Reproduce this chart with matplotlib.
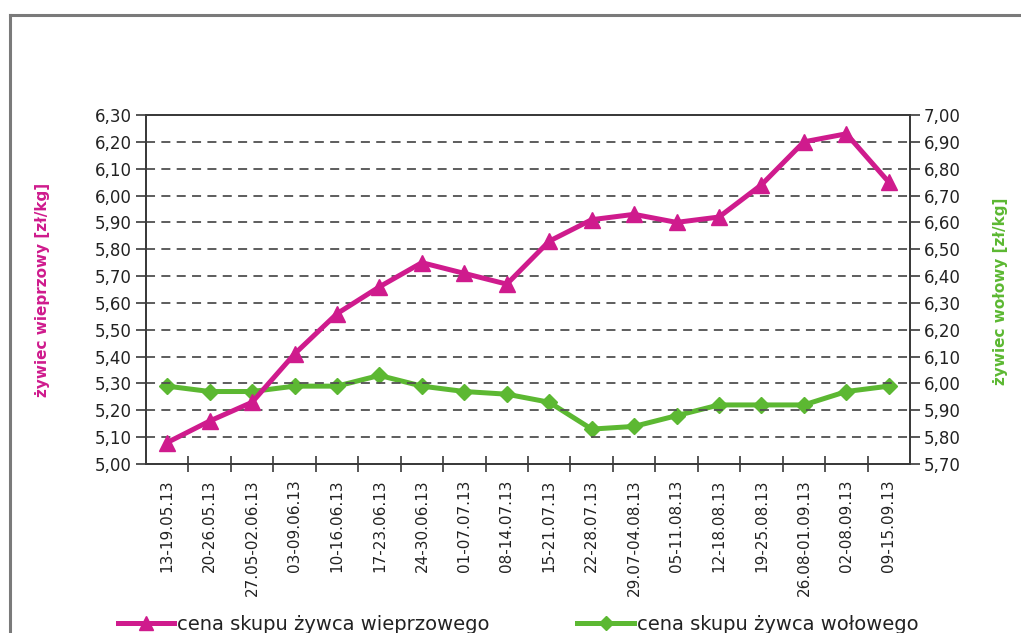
import matplotlib
matplotlib.use("Agg")
import matplotlib.pyplot as plt
from matplotlib.lines import Line2D
from matplotlib.ticker import FixedLocator, FuncFormatter

plt.rcParams["font.family"] = ["DejaVu Sans"]

# weekly periods (2013)
weeks = ["13-19.05.13", "20-26.05.13", "27.05-02.06.13", "03-09.06.13",
         "10-16.06.13", "17-23.06.13", "24-30.06.13", "01-07.07.13",
         "08-14.07.13", "15-21.07.13", "22-28.07.13", "29.07-04.08.13",
         "05-11.08.13", "12-18.08.13", "19-25.08.13", "26.08-01.09.13",
         "02-08.09.13", "09-15.09.13"]
# purchase price of live pigs [zł/kg]
pork = [5.08, 5.16, 5.23, 5.41, 5.56, 5.66, 5.75, 5.71, 5.67, 5.83,
        5.91, 5.93, 5.90, 5.92, 6.04, 6.20, 6.23, 6.05]
# purchase price of live cattle [zł/kg]
beef = [5.99, 5.97, 5.97, 5.99, 5.99, 6.03, 5.99, 5.97, 5.96, 5.93,
        5.83, 5.84, 5.88, 5.92, 5.92, 5.92, 5.97, 5.99]

PINK = "#cf1b8d"
GREEN = "#5cb832"
AXC = "#3a3a3a"
TXT = "#222222"

fig = plt.figure(figsize=(10.21, 6.33), dpi=100)
fig.patch.set_facecolor("white")

# outer frame (left and top edges visible)
fig.add_artist(Line2D([10 / 1021, 10 / 1021], [0, 1 - 15 / 633], color="#7a7a7a",
                      lw=2.2, transform=fig.transFigure))
fig.add_artist(Line2D([10 / 1021, 1.0], [1 - 15 / 633, 1 - 15 / 633], color="#7a7a7a",
                      lw=2.2, transform=fig.transFigure))

ax = fig.add_axes([146 / 1021, 1 - 464 / 633, 764 / 1021, 349 / 633])
ax2 = ax.twinx()

x = list(range(len(weeks)))
comma = FuncFormatter(lambda v, p: f"{v:.2f}".replace(".", ","))

ax.set_ylim(5.0, 6.3)
ax.set_xlim(-0.5, len(weeks) - 0.5)
ax.yaxis.set_major_locator(FixedLocator([5.0 + 0.1 * i for i in range(14)]))
ax.yaxis.set_major_formatter(comma)
for i in range(1, 13):
    ax.axhline(5.0 + 0.1 * i, color="#505050", lw=1.3, ls=(0, (5, 3.5)), zorder=1)

ax2.set_ylim(5.7, 7.0)
ax2.yaxis.set_major_locator(FixedLocator([5.7 + 0.1 * i for i in range(14)]))
ax2.yaxis.set_major_formatter(comma)

ax.set_xticks(x)
ax.set_xticklabels(weeks, rotation=90, fontsize=11, color=TXT)
ax.set_xticks([i + 0.5 for i in range(len(weeks) - 1)], minor=True)
ax.tick_params(axis="x", which="major", length=0, pad=11)
ax.tick_params(axis="x", which="minor", direction="inout", length=11,
               width=1.2, color=AXC)
ax.tick_params(axis="y", direction="out", length=7, width=1.2, color=AXC,
               labelsize=12, labelcolor=TXT, pad=3)
ax2.tick_params(axis="y", direction="out", length=7, width=1.2, color=AXC,
                labelsize=12, labelcolor=TXT, pad=3)

for a in (ax, ax2):
    for s in a.spines.values():
        s.set_color(AXC)
        s.set_linewidth(1.3)

ln2, = ax2.plot(x, beef, color=GREEN, lw=3.6, marker="D", ms=8,
                mec=GREEN, mfc=GREEN, zorder=3, label="cena skupu żywca wołowego")
ln1, = ax.plot(x, pork, color=PINK, lw=3.6, marker="^", ms=11,
               mec=PINK, mfc=PINK, zorder=4, label="cena skupu żywca wieprzowego")
ax.set_zorder(ax2.get_zorder() + 1)
ax.patch.set_visible(False)

fig.text(43 / 1021, 1 - 290 / 633, "żywiec wieprzowy [zł/kg]", rotation=90,
         color=PINK, fontsize=11, fontweight="bold", ha="center", va="center")
fig.text(1000 / 1021, 1 - 291 / 633, "żywiec wołowy [zł/kg]", rotation=90,
         color=GREEN, fontsize=11, fontweight="bold", ha="center", va="center")

fig.legend([ln1, ln2], [ln1.get_label(), ln2.get_label()], ncol=2,
           loc="center left", bbox_to_anchor=(118 / 1021, 1 - 624 / 633),
           frameon=False, fontsize=14, handlelength=2.9, handletextpad=0.15,
           columnspacing=4.5, borderpad=0, borderaxespad=0,
           labelcolor=TXT, markerscale=0.9)

fig.savefig("out.png", dpi=100)
